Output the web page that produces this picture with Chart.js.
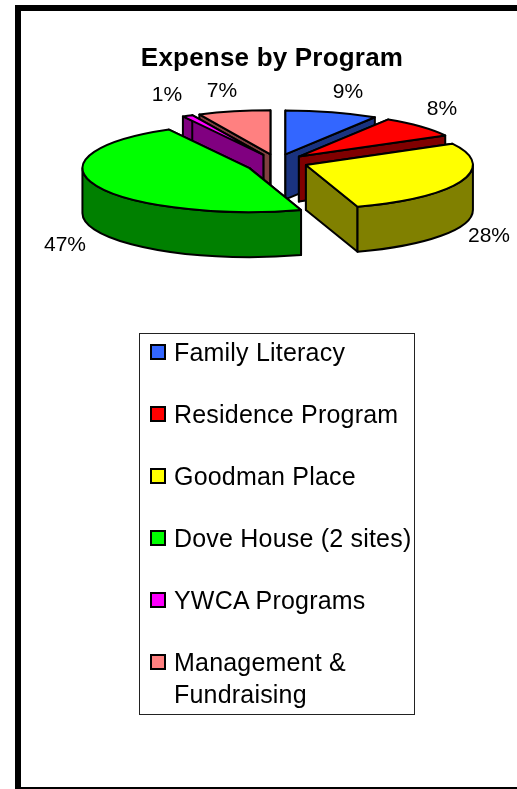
<!DOCTYPE html>
<html lang="en">
<head>
<meta charset="UTF-8">
<title>Expense by Program</title>
<script src="https://cdn.jsdelivr.net/npm/chart.js"></script>
<style>
    html, body { margin: 0; padding: 0; background: #fff; }
    #page { position: relative; width: 517px; height: 789px; overflow: hidden; font-family: "Liberation Sans", Arial, sans-serif; color: #000; }
    #frame { position: absolute; left: 15px; top: 5px; width: 520px; height: 776px; border: 6px solid #000; border-bottom-width: 2px; }
    #expenseChart { position: absolute; left: 0; top: 0; }
    #legend { position: absolute; left: 139px; top: 333px; width: 274px; height: 380px; border: 1px solid #222; background: #fff; }
    .item { position: absolute; left: 10px; display: flex; font-size: 25px; line-height: 32px; letter-spacing: 0.2px; }
    .swatch { box-sizing: border-box; width: 16px; height: 16px; border: 2px solid #000; margin: 8px 8px 0 0; flex: none; }
    .item span { width: 245px; }
</style>
</head>
<body>
<div id="page">
    <div id="frame"></div>
    <canvas id="expenseChart" width="517" height="789"></canvas>
    <div id="legend"></div>
</div>
<script>
    const categories = ['Family Literacy', 'Residence Program', 'Goodman Place', 'Dove House (2 sites)', 'YWCA Programs', 'Management & Fundraising'];
    const percentValues = [9, 8, 28, 47, 1, 7];
    const topColors = ['#3366FF', '#FF0000', '#FFFF00', '#00FF00', '#FF00FF', '#FF8080'];
    const wallColors = ['#1A3380', '#800000', '#808000', '#008000', '#800080', '#804040'];

    // back to front, the pie is painted by hand in this order
    const paintOrder = [5, 4, 0, 1, 2, 3];
    // where each % label sits on the page
    const labelSpots = [[348, 92], [442, 109], [489, 236], [65, 245], [167, 95], [222, 91]];
    // the big front slice sits a little lower than the explode alone puts it
    const sliceNudge = [[0, 0], [0, 0], [1, 0], [0, 3], [0, 0], [0, 0]];

    const PIE = { cx: 277, cy: 162, rx: 167, ry: 44, depth: 45 };

    const pie3d = {
        id: 'pie3d',
        beforeDraw(chart) {
            chart.ctx.letterSpacing = '0.2px'; // title text runs wide in the original
        },
        beforeDatasetDraw(chart) {
            const ctx = chart.ctx;
            const arcs = chart.getDatasetMeta(0).data;

            paintOrder.forEach(i => {
                const arc = arcs[i];
                const mid = (arc.startAngle + arc.endAngle) / 2;
                const shift = (arc.options.offset || 0) / 4;
                const sx = PIE.rx / arc.outerRadius;
                const sy = PIE.ry / arc.outerRadius;
                const x0 = PIE.cx + Math.cos(mid) * shift * sx + sliceNudge[i][0];
                const y0 = PIE.cy + Math.sin(mid) * shift * sy + sliceNudge[i][1];
                const edge = a => [x0 + PIE.rx * Math.cos(a), y0 + PIE.ry * Math.sin(a)];

                ctx.save();
                ctx.lineWidth = 2;
                ctx.lineJoin = 'round';
                ctx.strokeStyle = '#000';
                ctx.fillStyle = wallColors[i];

                // cut faces
                [arc.startAngle, arc.endAngle].forEach(a => {
                    const p = edge(a);
                    ctx.beginPath();
                    ctx.moveTo(x0, y0);
                    ctx.lineTo(p[0], p[1]);
                    ctx.lineTo(p[0], p[1] + PIE.depth);
                    ctx.lineTo(x0, y0 + PIE.depth);
                    ctx.closePath();
                    ctx.fill();
                    ctx.stroke();
                });

                // outer wall, front half only
                const from = Math.max(arc.startAngle, 0);
                const to = Math.min(arc.endAngle, Math.PI);
                if (from < to) {
                    ctx.beginPath();
                    ctx.ellipse(x0, y0, PIE.rx, PIE.ry, 0, from, to);
                    ctx.ellipse(x0, y0 + PIE.depth, PIE.rx, PIE.ry, 0, to, from, true);
                    ctx.closePath();
                    ctx.fill();
                    ctx.stroke();
                }

                // top
                ctx.fillStyle = arc.options.backgroundColor;
                ctx.beginPath();
                ctx.moveTo(x0, y0);
                ctx.ellipse(x0, y0, PIE.rx, PIE.ry, 0, arc.startAngle, arc.endAngle);
                ctx.closePath();
                ctx.fill();
                ctx.stroke();
                ctx.restore();
            });

            ctx.save();
            ctx.letterSpacing = '0px';
            ctx.fillStyle = '#000';
            ctx.font = '21px "Liberation Sans", Arial, sans-serif';
            ctx.textAlign = 'center';
            ctx.textBaseline = 'middle';
            percentValues.forEach((v, i) => {
                ctx.fillText(v + '%', labelSpots[i][0], labelSpots[i][1]);
            });
            ctx.restore();
            return false;
        }
    };

    new Chart(document.getElementById('expenseChart').getContext('2d'), {
        type: 'pie',
        data: {
            labels: categories,
            datasets: [{
                data: percentValues,
                backgroundColor: topColors,
                borderWidth: 0,
                offset: 91
            }]
        },
        options: {
            responsive: false,
            animation: false,
            layout: { padding: { left: 100, right: 73, top: 43, bottom: 360 } },
            plugins: {
                legend: { display: false },
                tooltip: { enabled: false },
                title: {
                    display: true,
                    text: 'Expense by Program',
                    color: '#000',
                    font: { family: '"Liberation Sans", Arial, sans-serif', size: 26, weight: 'bold' },
                    padding: { top: 0, bottom: 4 }
                }
            }
        },
        plugins: [pie3d]
    });

    // legend box, one row per category
    const legendBox = document.getElementById('legend');
    categories.forEach((name, i) => {
        const row = document.createElement('div');
        row.className = 'item';
        row.style.top = (2 + i * 62) + 'px';
        row.innerHTML = '<div class="swatch" style="background:' + topColors[i] + '"></div><span>' + name.replace('&', '&amp;') + '</span>';
        legendBox.appendChild(row);
    });
</script>
</body>
</html>
